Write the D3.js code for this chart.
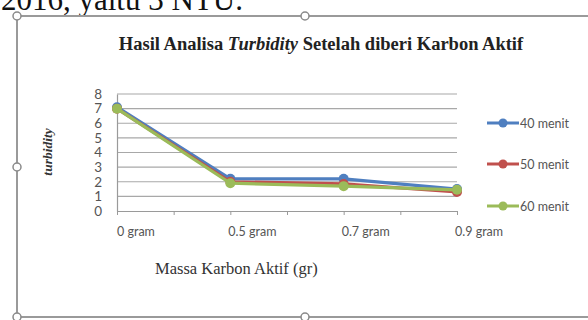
<!DOCTYPE html>
<html>
<head>
<meta charset="utf-8">
<script src="https://cdn.jsdelivr.net/npm/d3@7"></script>
<style>
  body { margin: 0; background: #fff; }
  svg { display: block; }
</style>
</head>
<body>
<div id="chart"></div>
<script>
// categories and series
var categories = ["0 gram", "0.5 gram", "0.7 gram", "0.9 gram"];
var seriesNames = ["40 menit", "50 menit", "60 menit"];
var seriesColors = ["#4f7fc0", "#c0504d", "#9bbb59"];
var values40 = [7.1, 2.2, 2.2, 1.5];
var values50 = [7.0, 2.0, 1.85, 1.3];
var values60 = [7.0, 1.9, 1.7, 1.45];
var yTicks = [0, 1, 2, 3, 4, 5, 6, 7, 8];

var width = 588, height = 320;
var sans = 'Lato, Carlito, Liberation Sans, sans-serif';
var serif = 'Liberation Serif, serif';

var svg = d3.select('#chart').append('svg')
  .attr('width', width)
  .attr('height', height);

// text from the document above the chart frame (cut off at the top)
svg.append('text')
  .attr('x', 1).attr('y', 10)
  .attr('font-family', serif)
  .attr('font-size', 31)
  .attr('fill', '#111')
  .text('2016, yaitu 3 NTU.');

// the selection frame around the chart object
var frame = svg.append('g');
frame.append('rect')
  .attr('x', 17).attr('y', 16)
  .attr('width', 580).attr('height', 301)
  .attr('fill', '#fff')
  .attr('stroke', '#9a9a9a')
  .attr('stroke-width', 2);
[[17, 16], [305, 16], [17, 167], [17, 317], [305, 317]].forEach(function (p) {
  frame.append('circle')
    .attr('cx', p[0]).attr('cy', p[1]).attr('r', 4)
    .attr('fill', '#fff')
    .attr('stroke', '#8a8a8a')
    .attr('stroke-width', 1.5);
});

// title
var title = svg.append('text')
  .attr('x', 321).attr('y', 50)
  .attr('text-anchor', 'middle')
  .attr('font-family', serif)
  .attr('font-weight', 'bold')
  .attr('font-size', 18.5)
  .attr('fill', '#222');
title.append('tspan').text('Hasil Analisa ');
title.append('tspan').attr('font-style', 'italic').text('Turbidity');
title.append('tspan').text(' Setelah diberi Karbon Aktif');

// plot area
var plot = { left: 117, right: 457, top: 94, bottom: 211 };

var x = d3.scaleLinear()
  .domain([0, categories.length - 1])
  .range([plot.left, plot.right]);

var y = d3.scaleLinear()
  .domain([0, 8])
  .range([plot.bottom, plot.top]);

var g = svg.append('g');

// horizontal gridlines
g.selectAll('.grid')
  .data(yTicks.filter(function (d) { return d > 0; }))
  .enter().append('line')
  .attr('x1', plot.left).attr('x2', plot.right)
  .attr('y1', function (d) { return y(d); })
  .attr('y2', function (d) { return y(d); })
  .attr('stroke', '#a8a8a8')
  .attr('stroke-width', 1.2);

// y axis
var yAxis = g.append('g')
  .attr('transform', 'translate(' + plot.left + ',0)')
  .call(d3.axisLeft(y).tickValues(yTicks).tickSize(0).tickPadding(15));
yAxis.select('.domain').attr('stroke', '#9a9a9a').attr('stroke-width', 1.2);
yAxis.selectAll('text')
  .attr('font-family', sans)
  .attr('font-size', 13.5)
  .attr('fill', '#555');

// x axis: ticks at every category and half-way between
var xAxis = g.append('g')
  .attr('transform', 'translate(0,' + plot.bottom + ')')
  .call(d3.axisBottom(x)
    .tickValues(d3.range(0, categories.length - 0.5, 0.5))
    .tickSize(4)
    .tickSizeOuter(0)
    .tickFormat(''));
xAxis.select('.domain').attr('stroke', '#9a9a9a').attr('stroke-width', 1.2);
xAxis.selectAll('line').attr('stroke', '#9a9a9a');

g.selectAll('.xlab')
  .data(categories)
  .enter().append('text')
  .attr('x', function (d, i) { return x(i) + (i === 0 ? 0 : -2); })
  .attr('y', 236)
  .attr('font-family', sans)
  .attr('font-size', 12.5)
  .attr('fill', '#555')
  .text(function (d) { return d; });

// axis titles
svg.append('text')
  .attr('x', 155).attr('y', 274)
  .attr('font-family', serif)
  .attr('font-size', 16.5)
  .attr('fill', '#333')
  .text('Massa Karbon Aktif (gr)');

svg.append('text')
  .attr('transform', 'translate(52,152) rotate(-90)')
  .attr('text-anchor', 'middle')
  .attr('font-family', serif)
  .attr('font-style', 'italic')
  .attr('font-weight', 'bold')
  .attr('font-size', 13.5)
  .attr('fill', '#333')
  .text('turbidity');

// series lines and markers
var series = [values40, values50, values60];
var line = d3.line()
  .x(function (d, i) { return x(i); })
  .y(function (d) { return y(d); });

series.forEach(function (vals, s) {
  g.append('path')
    .datum(vals)
    .attr('d', line)
    .attr('fill', 'none')
    .attr('stroke', seriesColors[s])
    .attr('stroke-width', 3.2)
    .attr('stroke-linejoin', 'round');
  g.selectAll('.m' + s)
    .data(vals)
    .enter().append('circle')
    .attr('cx', function (d, i) { return x(i); })
    .attr('cy', function (d) { return y(d); })
    .attr('r', 5)
    .attr('fill', seriesColors[s]);
});

// legend
var legend = svg.append('g');
var legendY = [123, 164, 206];
seriesNames.forEach(function (name, i) {
  legend.append('line')
    .attr('x1', 487).attr('x2', 519)
    .attr('y1', legendY[i]).attr('y2', legendY[i])
    .attr('stroke', seriesColors[i])
    .attr('stroke-width', 3);
  legend.append('circle')
    .attr('cx', 503).attr('cy', legendY[i]).attr('r', 4.5)
    .attr('fill', seriesColors[i]);
  legend.append('text')
    .attr('x', 520).attr('y', legendY[i] + 4.5)
    .attr('font-family', sans)
    .attr('font-size', 12.5)
    .attr('fill', '#555')
    .text(name);
});
</script>
</body>
</html>
